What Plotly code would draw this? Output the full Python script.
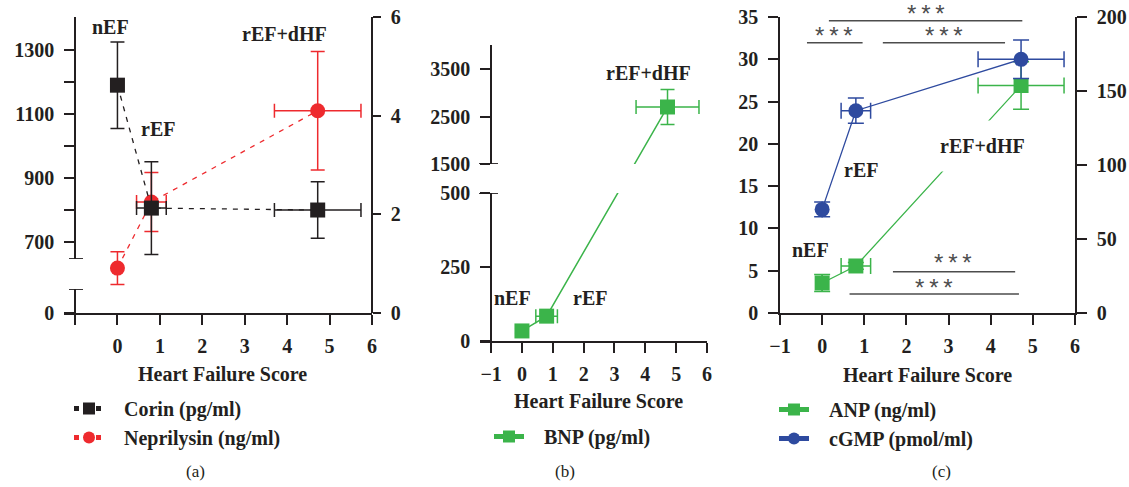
import plotly.graph_objects as go

W, H = 1129, 487

# ---------------- data ----------------
groups = ["nEF", "rEF", "rEF+dHF"]
hf_score = [0.0, 0.8, 4.72]
hf_score_err = [None, 0.35, 1.02]

corin = [1190, 806, 800]          # pg/ml
corin_err = [135, 145, 88]
neprilysin = [0.91, 2.25, 4.1]    # ng/ml
neprilysin_err = [0.33, 0.6, 1.2]

bnp = [34, 84, 2700]              # pg/ml
bnp_err = [8, 8, 370]

anp = [3.55, 5.56, 26.9]          # ng/ml
anp_err = [1.0, 0.4, 2.8]
cgmp = [70, 136.7, 171.4]         # pmol/ml
cgmp_err = [5, 8.5, 13]

x_ticks = [-1, 0, 1, 2, 3, 4, 5, 6]

# ---------------- style ----------------
INK = "#231f20"
RED = "#ee2a2e"
GREEN = "#3bb44a"
BLUE = "#2e4a9f"
GRAY = "#4d4d4d"
FONT = "Liberation Serif"
FS = 20
PAD = "\u00a0\u00a0\u00a0"   # gap between legend symbol and text


def X(px):
    return px / W


def Y(py):
    return 1 - py / H


tickfont = dict(family=FONT, size=FS, color=INK, weight="bold")

# axis geometry (pixel layout)
A_X = (64, 372)
A_RIGHT = (313, 17)
A_UP = (259, 17)
A_LO = (313, 289)
B_X = (480, 707)
B_LO = (341, 193)
B_UP = (164, 45)
C_X = (780, 1075)
C_Y = (313, 17)

A_UP_RANGE = [647, 1403]
A_LO_RANGE = [0, 75]
B_LO_RANGE = [0, 500]
B_UP_RANGE = [1500, 4005]

fig = go.Figure()


def ebar(arr, color, width):
    return dict(type="data", array=arr, color=color, thickness=1.5, width=width, visible=True)


# ---------------- panel (a) ----------------
fig.add_trace(go.Scatter(
    x=hf_score, y=corin, xaxis="x", yaxis="y2", mode="lines+markers",
    name=PAD + "Corin (pg/ml)", legend="legend",
    line=dict(color=INK, width=1.3, dash="5px,6px"),
    marker=dict(symbol="square", size=15, color=INK),
    error_y=ebar(corin_err, INK, 7), error_x=ebar(hf_score_err, INK, 7),
))
fig.add_trace(go.Scatter(
    x=hf_score, y=neprilysin, xaxis="x", yaxis="y", mode="lines+markers",
    name=PAD + "Neprilysin (ng/ml)", legend="legend",
    line=dict(color=RED, width=1.3, dash="5px,6px"),
    marker=dict(symbol="circle", size=15, color=RED),
    error_y=ebar(neprilysin_err, RED, 7), error_x=ebar(hf_score_err, RED, 7),
))

# ---------------- panel (b): broken axis ----------------
B_SEGS = [(B_LO_RANGE, B_LO), (B_UP_RANGE, B_UP)]


def value_to_py(v):
    for rng, pxs in B_SEGS:
        if rng[0] <= v <= rng[1]:
            return pxs[0] + (v - rng[0]) / (rng[1] - rng[0]) * (pxs[1] - pxs[0])
    rng, pxs = B_SEGS[0] if v < B_SEGS[0][0][1] else B_SEGS[1]
    return pxs[0] + (v - rng[0]) / (rng[1] - rng[0]) * (pxs[1] - pxs[0])


def py_to_value(py, rng, pxs):
    return rng[0] + (py - pxs[0]) / (pxs[1] - pxs[0]) * (rng[1] - rng[0])


bnp_on_lo = [py_to_value(value_to_py(v), B_LO_RANGE, B_LO) for v in bnp]
bnp_on_up = [py_to_value(value_to_py(v), B_UP_RANGE, B_UP) for v in bnp]

fig.add_trace(go.Scatter(x=hf_score, y=bnp_on_lo, xaxis="x2", yaxis="y4", mode="lines",
                         line=dict(color=GREEN, width=1.5), showlegend=False, hoverinfo="skip"))
fig.add_trace(go.Scatter(x=hf_score, y=bnp_on_up, xaxis="x2", yaxis="y5", mode="lines",
                         line=dict(color=GREEN, width=1.5), showlegend=False, hoverinfo="skip"))
lo_idx = [i for i, v in enumerate(bnp) if v <= B_LO_RANGE[1]]
up_idx = [i for i, v in enumerate(bnp) if v >= B_UP_RANGE[0]]
for idx, ax in ((lo_idx, "y4"), (up_idx, "y5")):
    fig.add_trace(go.Scatter(
        x=[hf_score[i] for i in idx], y=[bnp[i] for i in idx], xaxis="x2", yaxis=ax,
        mode="markers", showlegend=False,
        marker=dict(symbol="square", size=15, color=GREEN),
        error_y=ebar([bnp_err[i] for i in idx], GREEN, 7),
        error_x=ebar([hf_score_err[i] for i in idx], GREEN, 7),
    ))
fig.add_trace(go.Scatter(x=[None], y=[None], xaxis="x2", yaxis="y4", mode="lines+markers",
                         name=PAD + "BNP (pg/ml)", legend="legend2",
                         line=dict(color=GREEN, width=1.5),
                         marker=dict(symbol="square", size=15, color=GREEN)))

# ---------------- panel (c) ----------------
fig.add_trace(go.Scatter(
    x=hf_score, y=anp, xaxis="x3", yaxis="y6", mode="lines+markers",
    name=PAD + "ANP (ng/ml)", legend="legend3",
    line=dict(color=GREEN, width=1.3),
    marker=dict(symbol="square", size=15, color=GREEN),
    error_y=ebar(anp_err, GREEN, 8), error_x=ebar(hf_score_err, GREEN, 8),
))
fig.add_trace(go.Scatter(
    x=hf_score, y=cgmp, xaxis="x3", yaxis="y7", mode="lines+markers",
    name=PAD + "cGMP (pmol/ml)", legend="legend3",
    line=dict(color=BLUE, width=1.3),
    marker=dict(symbol="circle", size=15, color=BLUE),
    error_y=ebar(cgmp_err, BLUE, 8), error_x=ebar(hf_score_err, BLUE, 8),
))

# ---------------- axes ----------------
base = dict(showgrid=False, zeroline=False, showline=True, linecolor=INK, linewidth=1.5,
            ticks="outside", tickcolor=INK, tickwidth=1.5, tickfont=tickfont, automargin=False)


def xlabels(show_minus):
    return [("\u22121" if show_minus else "") if t < 0 else str(t) for t in x_ticks]


layout = dict(
    width=W, height=H, autosize=False, margin=dict(l=0, r=0, t=0, b=0, autoexpand=False),
    paper_bgcolor="white", plot_bgcolor="rgba(0,0,0,0)",
    xaxis=dict(base, domain=[X(A_X[0]), X(A_X[1])], range=[-1.26, 6], anchor="y",
               tickvals=x_ticks, ticktext=xlabels(False), ticklen=10, ticklabelstandoff=4),
    yaxis=dict(base, domain=[Y(A_RIGHT[0]), Y(A_RIGHT[1])], range=[0, 6], side="right",
               anchor="free", position=X(A_X[1]), tickvals=[0, 2, 4, 6], ticklen=8,
               ticklabelstandoff=6),
    yaxis2=dict(base, domain=[Y(A_UP[0]), Y(A_UP[1])], range=A_UP_RANGE, anchor="free",
                position=X(75), tickvals=list(range(700, 1400, 100)),
                ticktext=["700", "", "900", "", "1100", "", "1300"], ticklen=10,
                ticklabelstandoff=6),
    yaxis3=dict(base, domain=[Y(A_LO[0]), Y(A_LO[1])], range=A_LO_RANGE, anchor="free",
                position=X(75), tickvals=[0], ticktext=["0"], ticklen=10, ticklabelstandoff=6),
    xaxis2=dict(base, domain=[X(B_X[0]), X(B_X[1])], range=[-1.36, 6], anchor="y4",
                tickvals=x_ticks, ticktext=xlabels(True), ticklen=10, ticklabelstandoff=4),
    yaxis4=dict(base, domain=[Y(B_LO[0]), Y(B_LO[1])], range=B_LO_RANGE, anchor="free",
                position=X(491), tickvals=[0, 250, 500], ticklen=10, ticklabelstandoff=6),
    yaxis5=dict(base, domain=[Y(B_UP[0]), Y(B_UP[1])], range=B_UP_RANGE, anchor="free",
                position=X(491), tickvals=[1500, 2500, 3500], ticklen=10, ticklabelstandoff=6),
    xaxis3=dict(base, domain=[X(C_X[0]), X(C_X[1])], range=[-1, 6], anchor="y6",
                tickvals=x_ticks, ticktext=xlabels(True), ticklen=10, ticklabelstandoff=4),
    yaxis6=dict(base, domain=[Y(C_Y[0]), Y(C_Y[1])], range=[0, 35], anchor="x3",
                tickvals=list(range(0, 40, 5)), ticklen=10, ticklabelstandoff=6),
    yaxis7=dict(base, range=[0, 200], anchor="x3", overlaying="y6", side="right",
                tickvals=[0, 50, 100, 150, 200], ticklen=10, ticklabelstandoff=6),
)

legfont = dict(family=FONT, size=FS, color=INK, weight="bold")
legbase = dict(xanchor="left", yanchor="top", font=legfont, bgcolor="rgba(0,0,0,0)",
               itemsizing="constant", tracegroupgap=0, itemclick=False)
layout["legend"] = dict(legbase, x=X(69), y=Y(389))
layout["legend2"] = dict(legbase, x=X(489), y=Y(417))
layout["legend3"] = dict(legbase, x=X(774), y=Y(390))

# axis-break caps
shapes = [
    dict(type="line", xref="paper", yref="y2", x0=X(69), x1=X(83), y0=A_UP_RANGE[0], y1=A_UP_RANGE[0],
         line=dict(color=INK, width=1.8)),
    dict(type="line", xref="paper", yref="y3", x0=X(69), x1=X(83), y0=A_LO_RANGE[1], y1=A_LO_RANGE[1],
         line=dict(color=INK, width=1.8)),
    dict(type="line", xref="paper", yref="y5", x0=X(479), x1=X(498), y0=B_UP_RANGE[0], y1=B_UP_RANGE[0],
         line=dict(color=INK, width=1.8)),
    dict(type="line", xref="paper", yref="y4", x0=X(479), x1=X(498), y0=B_LO_RANGE[1], y1=B_LO_RANGE[1],
         line=dict(color=INK, width=1.8)),
]

# significance brackets in (c): line (x0, x1, y) in axis units; stars centre in pixels
sig_lines = [
    (0.16, 4.75, 34.56),
    (-0.36, 0.96, 31.96),
    (1.44, 4.34, 31.96),
    (1.68, 4.58, 4.89),
    (0.65, 4.67, 2.25),
]
sig_stars = [(926, 9), (834, 32), (944, 32), (953, 258), (934, 283)]
annotations = []
for x0, x1, yl in sig_lines:
    shapes.append(dict(type="line", xref="x3", yref="y6", x0=x0, x1=x1, y0=yl, y1=yl,
                       line=dict(color=GRAY, width=1.5)))
for sx, sy in sig_stars:
    annotations.append(dict(xref="paper", yref="paper", x=X(sx), y=Y(sy + 4), text="*\u2009*\u2009*",
                            showarrow=False, xanchor="center", yanchor="middle",
                            font=dict(family="Liberation Sans", size=24, color=GRAY)))


def label(text, px, py, bg=None, pad=0):
    d = dict(xref="paper", yref="paper", x=X(px), y=Y(py), text=text, showarrow=False,
             xanchor="center", yanchor="middle", font=dict(family=FONT, size=FS, color=INK, weight="bold"))
    if bg:
        d.update(bgcolor=bg, borderpad=pad)
    return d


annotations += [
    label("nEF", 110, 27), label("rEF", 158, 129), label("rEF+dHF", 284, 34),
    label("rEF+dHF", 648, 73), label("nEF", 512, 298), label("rEF", 590, 298),
    label("nEF", 810, 250), label("rEF", 861, 170), label("rEF+dHF", 982, 146, bg="white", pad=14),
    label("Heart Failure Score", 222, 374), label("Heart Failure Score", 598, 401),
    label("Heart Failure Score", 928, 375),
]
for t, px in (("(a)", 195), ("(b)", 565), ("(c)", 941)):
    annotations.append(dict(xref="paper", yref="paper", x=X(px), y=Y(471), text=t, showarrow=False,
                            xanchor="center", yanchor="middle", font=dict(family=FONT, size=17, color=INK)))

layout["shapes"] = shapes
layout["annotations"] = annotations
fig.update_layout(**layout)

fig.write_html("out.html", config={"displayModeBar": False},
               post_script="document.body.style.margin='0px';document.body.style.overflow='hidden';")
